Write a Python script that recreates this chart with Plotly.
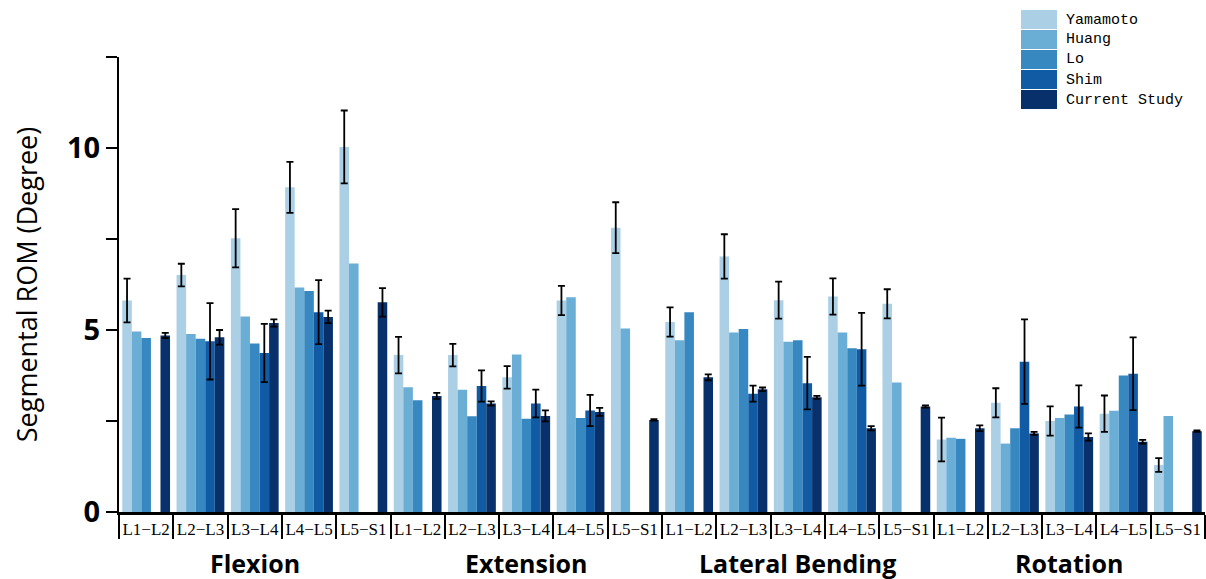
import plotly.graph_objects as go

motions = ["Flexion", "Extension", "Lateral Bending", "Rotation"]
segments = ["L1−L2", "L2−L3", "L3−L4", "L4−L5", "L5−S1"]
series = ["Yamamoto", "Huang", "Lo", "Shim", "Current Study"]

# values per series, order: Flexion(5), Extension(5), Lateral Bending(5), Rotation(5)
yamamoto = [5.81, 6.51, 7.52, 8.92, 10.03,
            4.31, 4.31, 3.70, 5.81, 7.81,
            5.22, 7.02, 5.82, 5.92, 5.72,
            1.99, 3.00, 2.50, 2.70, 1.29]
yamamoto_err = [0.60, 0.31, 0.80, 0.70, 1.00,
                0.50, 0.31, 0.31, 0.40, 0.70,
                0.40, 0.61, 0.51, 0.50, 0.40,
                0.60, 0.40, 0.40, 0.50, 0.19]
huang = [4.96, 4.89, 5.37, 6.17, 6.83,
         3.43, 3.36, 4.33, 5.90, 5.04,
         4.72, 4.93, 4.68, 4.93, 3.56,
         2.04, 1.88, 2.58, 2.78, 2.64]
lo = [4.78, 4.76, 4.63, 6.07, None,
      3.07, 2.63, 2.56, 2.58, None,
      5.49, 5.03, 4.72, 4.50, None,
      2.01, 2.30, 2.68, 3.75, None]
shim = [None, 4.69, 4.37, 5.49, None,
        None, 3.46, 2.98, 2.79, None,
        None, 3.25, 3.54, 4.47, None,
        None, 4.13, 2.90, 3.80, None]
shim_err = [0, 1.05, 0.80, 0.88, 0,
            0, 0.43, 0.38, 0.43, 0,
            0, 0.22, 0.72, 1.00, 0,
            0, 1.16, 0.58, 1.00, 0]
current = [4.85, 4.80, 5.19, 5.36, 5.76,
           3.19, 2.98, 2.64, 2.75, 2.53,
           3.70, 3.37, 3.15, 2.30, 2.90,
           2.30, 2.16, 2.06, 1.93, 2.22]
current_err = [0.07, 0.20, 0.10, 0.17, 0.39,
               0.08, 0.06, 0.15, 0.11, 0.02,
               0.08, 0.05, 0.04, 0.06, 0.03,
               0.08, 0.04, 0.10, 0.05, 0.02]

colors = ["#abd0e6", "#6aaed6", "#3787c0", "#105ba4", "#08306b"]

n = len(motions) * len(segments)
xpos = list(range(n))
ticktext = segments * len(motions)

data = [
    (yamamoto, yamamoto_err),
    (huang, None),
    (lo, None),
    (shim, shim_err),
    (current, current_err),
]

fig = go.Figure()
for name, (vals, err), col in zip(series, data, colors):
    kw = {}
    if err is not None:
        kw["error_y"] = dict(type="data", array=err, visible=True,
                             color="black", thickness=1.8, width=3.5)
    fig.add_trace(go.Bar(x=xpos, y=vals, name=name, marker_color=col,
                         marker_line_width=0, showlegend=False, **kw))

# plot area pixel geometry (for legend/annotation placement)
W, H = 1206, 579
ml, mr, mt, mb = 119, 1, 57, 67
pw, ph = W - ml - mr, H - mt - mb

def px_x(x):
    return (x - ml) / pw

def px_y(y):
    return (H - mb - y) / ph

# custom legend with large colour boxes
for i, (name, col) in enumerate(zip(series, colors)):
    top = 10 + 20 * i
    fig.add_shape(type="rect", xref="paper", yref="paper",
                  x0=px_x(1021), x1=px_x(1057), y0=px_y(top + 19), y1=px_y(top),
                  fillcolor=col, line_width=0)
    fig.add_annotation(xref="paper", yref="paper", x=px_x(1064), y=px_y(top + 10),
                       text=name, showarrow=False, xanchor="left", yanchor="middle",
                       font=dict(family="Liberation Mono", size=15, color="black"))

# motion group labels
for k, m in enumerate(motions):
    center = k * len(segments) + (len(segments) - 1) / 2
    fig.add_annotation(xref="x", yref="paper", x=center, y=px_y(563),
                       text=m, showarrow=False,
                       xanchor="center", yanchor="middle",
                       font=dict(family="Open Sans", size=25, color="black",
                                 weight="bold"))

fig.update_layout(
    width=W, height=H,
    margin=dict(l=ml, r=mr, t=mt, b=mb),
    plot_bgcolor="white", paper_bgcolor="white",
    barmode="group", bargap=0.12, bargroupgap=0,
    showlegend=False,
)
fig.update_xaxes(
    range=[-0.5, n - 0.5],
    tickmode="array", tickvals=xpos, ticktext=ticktext,
    ticks="", showgrid=False, zeroline=False,
    showline=True, linecolor="black", linewidth=2.5,
    tickfont=dict(family="Liberation Serif", size=17, color="black"),
    minor=dict(tickmode="array", tickvals=[i - 0.5 for i in range(n + 1)],
               ticks="outside", ticklen=24, tickwidth=2, tickcolor="black"),
)
fig.update_yaxes(
    range=[0, 12.5],
    tickmode="array", tickvals=[0, 5, 10],
    ticks="outside", ticklen=11, tickwidth=2, tickcolor="black",
    minor=dict(tickmode="array", tickvals=[2.5, 7.5, 12.5],
               ticks="outside", ticklen=11, tickwidth=2, tickcolor="black"),
    showgrid=False, zeroline=False,
    showline=True, linecolor="black", linewidth=2,
    tickfont=dict(family="Open Sans", size=29, color="black", weight="bold"),
    title=dict(text="Segmental ROM (Degree)", standoff=22,
               font=dict(family="Open Sans", size=27, color="black")),
)

fig.write_html("out.html", config={"displayModeBar": False},
               post_script="document.body.style.margin='0';document.body.style.overflow='hidden';")
